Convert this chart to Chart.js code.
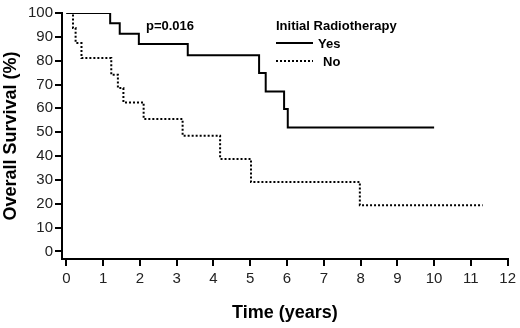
<!DOCTYPE html>
<html>
<head>
<meta charset="utf-8">
<script src="https://cdn.jsdelivr.net/npm/chart.js@4/dist/chart.umd.min.js"></script>
<style>
  html, body { margin: 0; padding: 0; background: #fff; }
  #wrap { width: 520px; height: 328px; position: relative; }
</style>
</head>
<body>
<div id="wrap"><canvas id="kmChart" width="520" height="328"></canvas></div>
<script>
// Kaplan-Meier data (time in years, survival %)
var yesTimes = [0, 1.19, 1.45, 1.97, 3.30, 5.24, 5.42, 5.92, 6.02, 10.0];
var yesSurv  = [100, 95.7, 91.3, 87.0, 82.3, 74.8, 67.1, 59.7, 52.0, 52.0];
var noTimes  = [0, 0.18, 0.25, 0.41, 1.22, 1.40, 1.55, 2.10, 3.16, 4.18, 5.02, 7.98, 11.32];
var noSurv   = [100, 93.7, 87.4, 81.1, 74.1, 68.5, 62.5, 55.5, 48.5, 38.8, 29.1, 19.3, 19.3];
var xTicks = [0, 1, 2, 3, 4, 5, 6, 7, 8, 9, 10, 11, 12];
var yTicks = [0, 10, 20, 30, 40, 50, 60, 70, 80, 90, 100];
var legendTitle = 'Initial Radiotherapy';
var seriesNames = ['Yes', 'No'];
var pValue = 'p=0.016';

var FONT = 'Arial, "Liberation Sans", Helvetica, sans-serif';

function toPoints(times, vals) {
  return times.map(function (t, i) { return { x: t, y: vals[i] }; });
}

// legend and p-value drawn in the plot like the original
var annotPlugin = {
  id: 'annot',
  afterDraw: function (chart) {
    var ctx = chart.ctx;
    ctx.save();
    ctx.fillStyle = '#000';
    ctx.strokeStyle = '#000';
    ctx.textBaseline = 'middle';
    ctx.font = 'bold 13px ' + FONT;
    ctx.fillText(pValue, 146, 26);
    ctx.fillText(legendTitle, 276, 26);
    ctx.fillText(seriesNames[0], 318, 44);
    ctx.fillText(seriesNames[1], 323, 62);
    ctx.lineWidth = 2;
    ctx.beginPath();
    ctx.moveTo(276, 43);
    ctx.lineTo(313, 43);
    ctx.stroke();
    ctx.setLineDash([2, 2]);
    ctx.beginPath();
    ctx.moveTo(276, 61);
    ctx.lineTo(313, 61);
    ctx.stroke();
    ctx.restore();
  }
};

var ctx = document.getElementById('kmChart').getContext('2d');
var _kmChart = new Chart(ctx, {
  type: 'line',
  data: {
    datasets: [
      {
        label: seriesNames[0],
        data: toPoints(yesTimes, yesSurv),
        stepped: 'before',
        borderColor: '#000',
        borderWidth: 2,
        pointRadius: 0,
        fill: false
      },
      {
        label: seriesNames[1],
        data: toPoints(noTimes, noSurv),
        stepped: 'before',
        borderColor: '#000',
        borderWidth: 2,
        borderDash: [2, 2],
        pointRadius: 0,
        fill: false
      }
    ]
  },
  options: {
    responsive: false,
    animation: false,
    layout: { padding: { top: 13, right: 11, left: 0, bottom: 0 } },
    plugins: {
      legend: { display: false },
      tooltip: { enabled: false }
    },
    scales: {
      x: {
        type: 'linear',
        min: -0.12,
        max: 12,
        afterBuildTicks: function (axis) {
          axis.ticks = xTicks.map(function (v) { return { value: v }; });
        },
        afterFit: function (axis) { axis.height = 69; },
        grid: { display: true, drawOnChartArea: false, drawTicks: true, tickLength: 7, color: '#000', lineWidth: 2 },
        border: { display: true, color: '#000', width: 2 },
        ticks: { color: '#222', font: { family: FONT, size: 15 }, padding: 4, maxRotation: 0, autoSkip: false },
        title: {
          display: true,
          text: 'Time (years)',
          color: '#000',
          font: { family: FONT, size: 18, weight: 'bold' },
          padding: { top: 0, bottom: 4 }
        }
      },
      y: {
        min: -3.2,
        max: 100,
        afterBuildTicks: function (axis) {
          axis.ticks = yTicks.map(function (v) { return { value: v }; });
        },
        afterFit: function (axis) { axis.width = 62; },
        grid: { display: true, drawOnChartArea: false, drawTicks: true, tickLength: 7, color: '#000', lineWidth: 2 },
        border: { display: true, color: '#000', width: 2 },
        ticks: { color: '#222', font: { family: FONT, size: 15 }, padding: 2, autoSkip: false },
        title: {
          display: true,
          text: 'Overall Survival (%)',
          color: '#000',
          font: { family: FONT, size: 18, weight: 'bold' },
          padding: { top: 0, bottom: 0 }
        }
      }
    }
  },
  plugins: [annotPlugin]
});
</script>
</body>
</html>
